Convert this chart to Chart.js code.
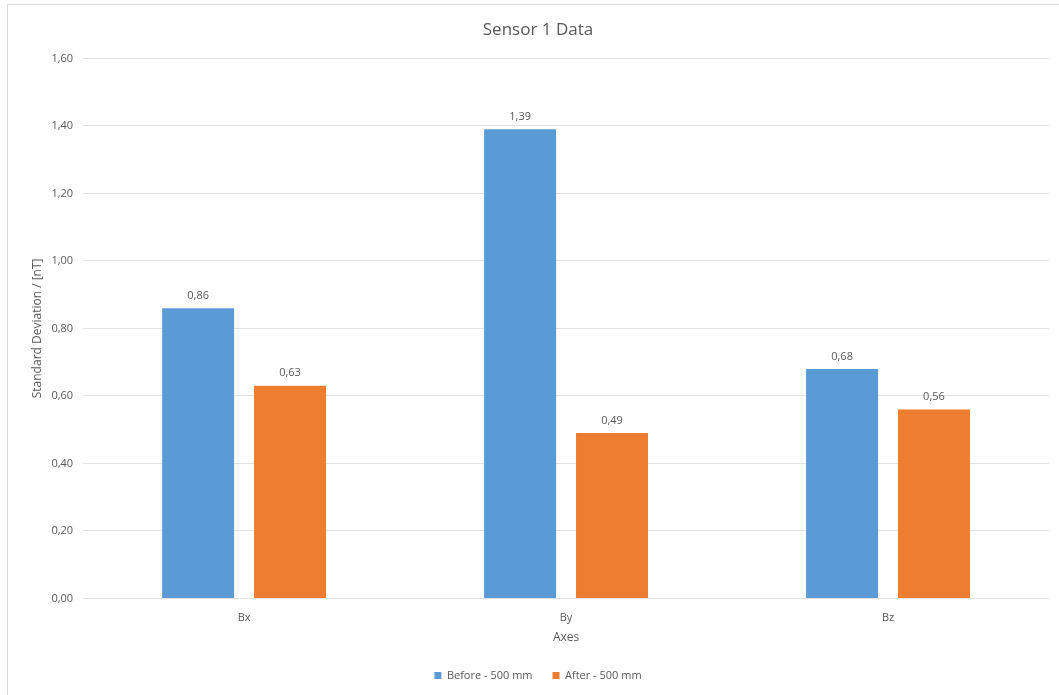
<!DOCTYPE html>
<html>
<head>
<meta charset="utf-8">
<title>Sensor 1 Data</title>
<script src="https://cdn.jsdelivr.net/npm/chart.js@4"></script>
<style>
  html, body { margin: 0; padding: 0; background: #fff; }
  #wrap { position: relative; width: 1059px; height: 695px; }
  #frame {
    position: absolute; left: 7px; top: 4px; right: -10px; bottom: -10px;
    border: 1px solid #d9d9d9; pointer-events: none;
  }
</style>
</head>
<body>
<div id="wrap">
  <canvas id="sensorChart" width="1059" height="695"></canvas>
  <div id="frame"></div>
</div>
<script>
// Standard deviation per axis, before and after
var axesLabels = ['Bx', 'By', 'Bz'];
var beforeValues = [0.86, 1.39, 0.68];
var afterValues = [0.63, 0.49, 0.56];
var seriesNames = ['Before - 500 mm', 'After - 500 mm'];

const textGrey = '#595959';
const fontName = "'Open Sans', 'Liberation Sans', sans-serif";

function comma(v) {
  return v.toFixed(2).replace('.', ',');
}

// value labels on top of every bar
const barValues = {
  id: 'barValues',
  afterDatasetsDraw(chart) {
    const c = chart.ctx;
    c.save();
    c.font = '11px ' + fontName;
    c.fillStyle = textGrey;
    c.textAlign = 'center';
    c.textBaseline = 'bottom';
    chart.data.datasets.forEach(function (ds, i) {
      chart.getDatasetMeta(i).data.forEach(function (bar, j) {
        c.fillText(comma(ds.data[j]), bar.x, bar.y - 7);
      });
    });
    c.restore();
  }
};

const ctx = document.getElementById('sensorChart');
new Chart(ctx, {
  type: 'bar',
  data: {
    labels: axesLabels,
    datasets: [{
      label: seriesNames[0],
      data: beforeValues,
      backgroundColor: '#5b9bd5',
      categoryPercentage: 0.571,
      barPercentage: 0.783
    }, {
      label: seriesNames[1],
      data: afterValues,
      backgroundColor: '#ed7d31',
      categoryPercentage: 0.571,
      barPercentage: 0.783
    }]
  },
  options: {
    responsive: false,
    animation: false,
    layout: { padding: { left: 27, right: 10, top: 20, bottom: 4 } },
    plugins: {
      title: {
        display: true,
        text: 'Sensor 1 Data',
        color: textGrey,
        font: { family: fontName, size: 17, weight: 'normal' },
        padding: { top: 0, bottom: 18 }
      },
      legend: {
        position: 'bottom',
        labels: {
          color: textGrey,
          font: { family: fontName, size: 11 },
          boxWidth: 7,
          boxHeight: 7,
          padding: 20
        }
      },
      tooltip: { enabled: false }
    },
    scales: {
      x: {
        grid: { display: false },
        border: { display: false },
        ticks: { color: textGrey, font: { family: fontName, size: 11 }, padding: 5 },
        title: {
          display: true,
          text: 'Axes',
          color: textGrey,
          font: { family: fontName, size: 12 },
          padding: { top: 1, bottom: 5 }
        }
      },
      y: {
        min: 0,
        max: 1.6,
        grid: { color: '#e3e3e3', drawTicks: false },
        border: { display: false },
        ticks: {
          stepSize: 0.2,
          color: textGrey,
          font: { family: fontName, size: 11 },
          padding: 10,
          callback: function (v) { return comma(v); }
        },
        title: {
          display: true,
          text: 'Standard Deviation / [nT]',
          color: textGrey,
          font: { family: fontName, size: 12 },
          padding: { top: 3, bottom: -3 }
        }
      }
    }
  },
  plugins: [barValues]
});
</script>
</body>
</html>
